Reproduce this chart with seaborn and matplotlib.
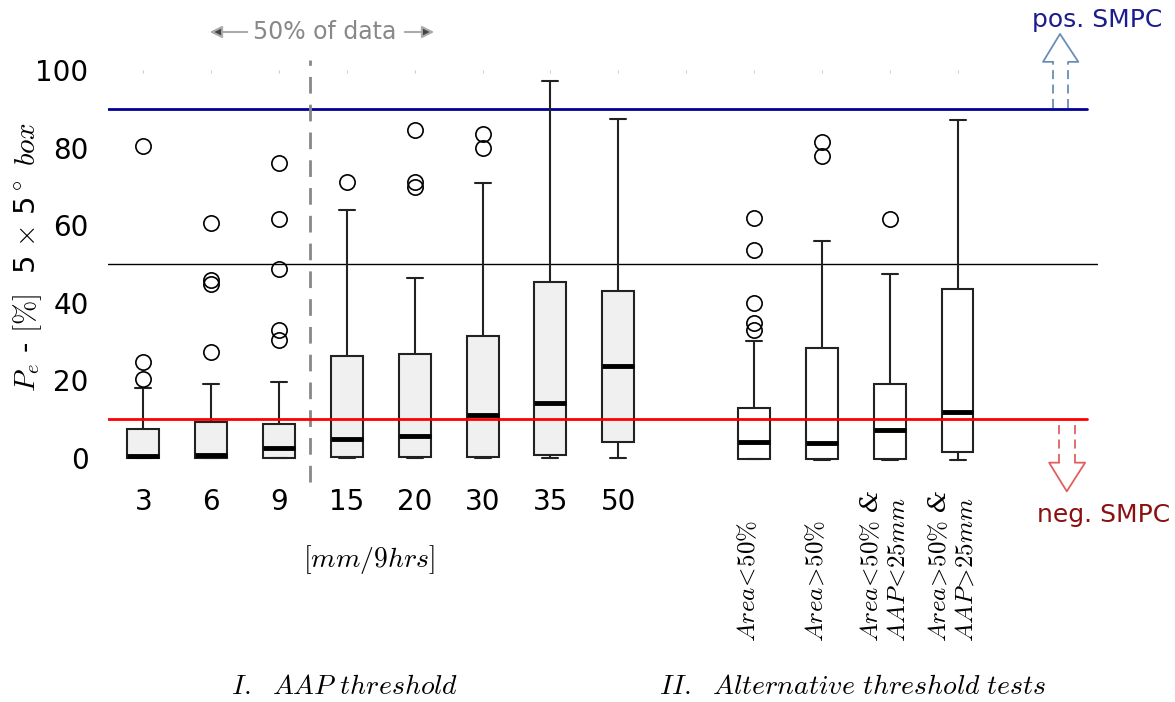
import numpy as np
import pandas as pd
import seaborn as sns
import matplotlib
matplotlib.use("Agg")
import matplotlib.pyplot as plt
import matplotlib.transforms as mtransforms
from matplotlib.patches import FancyArrowPatch

# box summaries (percent of 5x5 deg boxes)
categories = ["3", "6", "9", "15", "20", "30", "35", "50", "gap",
              "Area<50%", "Area>50%", "Area<50% & AAP<25mm", "Area>50% & AAP>25mm"]
groups = ["I"] * 8 + ["II"] * 4
alt_labels = [r"$Area\!<\!50\%$", r"$Area\!>\!50\%$",
              "$Area\\!<\\!50\\%$ &\n$AAP\\!<\\!25mm$",
              "$Area\\!>\\!50\\%$ &\n$AAP\\!>\\!25mm$"]

whisker_lo = [0, 0, 0, 0, 0, 0, 0, 0, -0.3, -0.5, -0.5, -0.5]
q1 = [0, 0, 0, 0.2, 0.2, 0.2, 0.8, 4.1, -0.3, -0.3, -0.3, 1.5]
median = [0.3, 0.8, 2.5, 4.7, 5.7, 10.9, 14.1, 23.7, 4.0, 3.7, 7.0, 11.8]
q3 = [7.4, 9.3, 8.6, 26.3, 26.8, 31.4, 45.4, 43.1, 12.8, 28.4, 19.0, 43.5]
whisker_hi = [18.0, 19.0, 19.4, 63.9, 46.3, 70.8, 97.2, 87.4, 30.2, 55.8, 47.3, 87.1]
outliers = [[20.3, 24.6, 80.4], [27.2, 44.9, 45.8, 60.6], [30.4, 33.0, 48.7, 61.6, 75.9],
            [71.1], [69.9, 71.2, 84.5], [80.0, 83.4], [], [],
            [33.0, 34.7, 39.9, 53.6, 61.9], [77.7, 81.5], [61.6], []]

pos_smpc = 90
neg_smpc = 10
mid_line = 50


def expand(lo, a, med, b, hi, extra):
    # rebuild a sample whose quartiles / whiskers / fliers give the read summary
    k = len(extra)
    m = k + 1
    return [lo] + [a] * m + [med] * m + [b] * (2 * m - k - 1) + [hi] + sorted(extra)


box_cats = [c for c in categories if c != "gap"]
rows = []
for i, cat in enumerate(box_cats):
    for v in expand(whisker_lo[i], q1[i], median[i], q3[i], whisker_hi[i], outliers[i]):
        rows.append({"threshold": cat, "Pe": v, "group": groups[i]})
df = pd.DataFrame(rows)

sns.set_style("white")
plt.rcParams['font.family'] = ['DejaVu Sans']
plt.rcParams['mathtext.fontset'] = 'cm'
plt.rcParams['text.color'] = 'black'
plt.rcParams['xtick.labelcolor'] = 'black'
plt.rcParams['ytick.labelcolor'] = 'black'

W, H = 1175, 702
fig = plt.figure(figsize=(W / 100, H / 100), dpi=100)
ax = fig.add_axes([108 / W, 1 - 477 / H, 990 / W, 407 / H])

sns.boxplot(data=df, x="threshold", y="Pe", hue="group", order=categories,
            palette={"I": "#f0f0f0", "II": "white"}, dodge=False, legend=False,
            width=0.47, linewidth=1.5, linecolor="#222222", whis=1.5,
            flierprops=dict(marker="o", markersize=11, markerfacecolor="none",
                            markeredgecolor="black", markeredgewidth=1.2),
            medianprops=dict(color="black", linewidth=3.5),
            ax=ax)

ax.axhline(pos_smpc, xmax=0.989, color="#000099", lw=2, zorder=1)
ax.axhline(mid_line, color="black", lw=1, zorder=1)
ax.axhline(neg_smpc, xmax=0.989, color="red", lw=2, zorder=3)
ax.plot([2.45, 2.45], [-6.2, 102.6], color="#888888", lw=2, ls=(0, (6, 4)), clip_on=False)

ax.set_xlim(-0.52, 14.07)
ax.set_ylim(-5, 100)
ax.set_yticks([0, 20, 40, 60, 80, 100])
ax.set_xticks(range(len(categories)))
ax.set_xticklabels(categories[:8] + [""] * 5)
ax.set_xlabel("")
ax.set_ylabel("")
for s in ax.spines.values():
    s.set_visible(False)
ax.tick_params(axis="y", direction="in", length=4, color="#999999", labelsize=20, pad=14)
ax.tick_params(axis="x", bottom=False, top=True, direction="in", length=2,
               color="#cccccc", labelsize=20, pad=8)

# rotated labels for the alternative tests
trans = mtransforms.blended_transform_factory(ax.transData, fig.transFigure)
for i, lab in enumerate(alt_labels):
    ax.text(9 + i - 0.08, 1 - 642 / H, lab, transform=trans, rotation=90, ha="center",
            va="bottom", multialignment="left", fontsize=18,
            family="DejaVu Serif", fontstyle="italic")

fig.text(369 / W, 1 - 560 / H, r"$[mm/9hrs]$", ha="center", va="center", fontsize=20)
fig.text(345 / W, 1 - 686 / H, r"$I.\ \ AAP\ threshold$", ha="center", va="center", fontsize=20)
fig.text(853 / W, 1 - 686 / H, r"$II.\ \ Alternative\ threshold\ tests$", ha="center",
         va="center", fontsize=20)
fig.text(28 / W, 1 - 257 / H, r"$P_e$ - $[\%]$  5 $\times$ 5$^\circ$ $box$", rotation=90,
         ha="center", va="center", fontsize=21)

# "50% of data" header with arrows
fig.text(325 / W, 1 - 32 / H, "50% of data", color="#888888", ha="center", va="center", fontsize=17)
for x0, x1 in [(250, 207), (402, 437)]:
    fig.patches.append(FancyArrowPatch((x0 / W, 1 - 32 / H), (x1 / W, 1 - 32 / H),
                                       transform=fig.transFigure, arrowstyle="-|>",
                                       mutation_scale=18, fc="#444444", ec="#aaaaaa", lw=1.5))

# SMPC arrows
up_c = "#6a8fb5"
ax.plot([13.41, 13.26, 13.51, 13.78, 13.63], [102.1, 102.1, 109.3, 102.1, 102.1],
        color=up_c, lw=1.3, clip_on=False)
for xs in [13.41, 13.63]:
    ax.plot([xs, xs], [90.2, 102.1], color=up_c, lw=1.3, ls=(0, (5, 3)), clip_on=False)
dn_c = "#e06060"
ax.plot([13.50, 13.35, 13.61, 13.88, 13.73], [-1.3, -1.3, -8.7, -1.3, -1.3],
        color=dn_c, lw=1.3, clip_on=False)
for xs in [13.50, 13.73]:
    ax.plot([xs, xs], [-1.3, 9.8], color=dn_c, lw=1.3, ls=(0, (5, 3)), clip_on=False)

fig.text(1097 / W, 1 - 20 / H, "pos. SMPC", color="#1c1c8c", ha="center", va="center", fontsize=18)
fig.text(1104 / W, 1 - 515 / H, "neg. SMPC", color="#8b1010", ha="center", va="center", fontsize=18)

fig.savefig("out.png", dpi=100)
